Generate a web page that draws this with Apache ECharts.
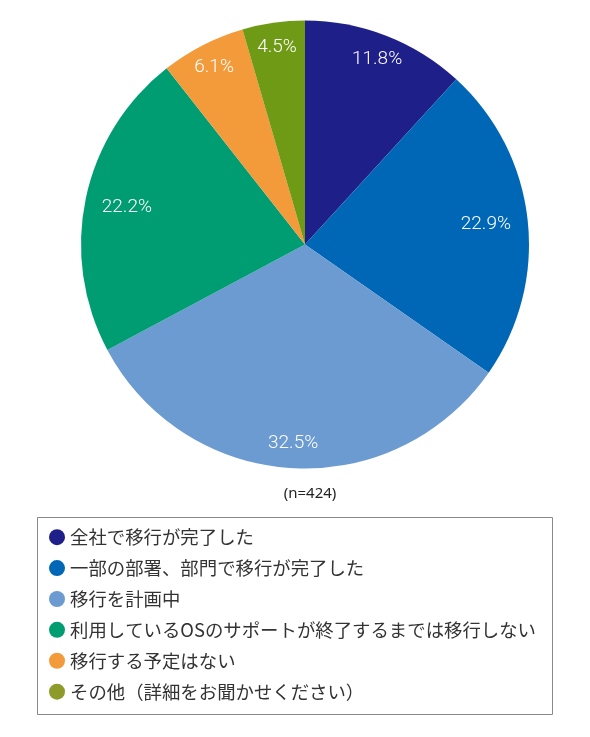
<!DOCTYPE html>
<html><head><meta charset="utf-8">
<script src="https://cdn.jsdelivr.net/npm/echarts@6/dist/echarts.min.js"></script>
<style>html,body{margin:0;padding:0;background:#fff}#c{width:590px;height:737px}</style>
</head><body><div id="c"></div>
<script>
var categories = ['全社で移行が完了した','一部の部署、部門で移行が完了した','移行を計画中','利用しているOSのサポートが終了するまでは移行しない','移行する予定はない','その他（詳細をお聞かせください）'];
var values = [11.8, 22.9, 32.5, 22.2, 6.1, 4.5];
var colors = ['#1e1f88','#0067b6','#6c9bd1','#009c72','#f39b3b','#6f9a15'];
var legendColors = ['#1e1f88','#0067b6','#6c9bd1','#009c72','#f39b3b','#8e9b2a'];
var note = '(n=424)';

var chart = echarts.init(document.getElementById('c'));
var font = '"Noto Sans CJK JP","Noto Sans",sans-serif';
var innerLabelIdx = [1, 3];
function labelSeries(r0, inner) {
  return {
    type: 'pie', center: [305, 244.5], radius: [r0, 224], startAngle: 90, clockwise: true,
    silent: true, legendHoverLink: false,
    itemStyle: {color: 'rgba(0,0,0,0)'},
    label: {show: true, position: 'inside', color: '#fff', fontSize: 19, fontWeight: 300, fontFamily: 'Roboto, "Noto Sans", sans-serif',
      formatter: function(p){return values[p.dataIndex].toFixed(1) + '%';}},
    labelLine: {show: false},
    data: categories.map(function(n,i){
      var isInner = innerLabelIdx.indexOf(i) >= 0;
      return {name:n, value:values[i], label:{show: isInner === inner}};
    })
  };
}
chart.setOption({
  animation: false,
  backgroundColor: '#fff',
  title: {text: note, left: 305, top: 481, textAlign: 'center',
    textStyle: {fontSize: 15, fontWeight: 'normal', color: '#222', fontFamily: '"Noto Sans",sans-serif'}},
  legend: {
    orient: 'vertical', left: 49, top: 528, padding: 0,
    icon: 'circle', itemWidth: 16, itemHeight: 16, itemGap: 12.5, itemTextGap: 8,
    selectedMode: false,
    textStyle: {fontSize: 18.4, color: '#333', fontFamily: font, lineHeight: 16},
    data: categories.map(function(n,i){return {name:n, itemStyle:{color:legendColors[i]}};})
  },
  graphic: [{type:'rect', shape:{x:37.5,y:517.5,width:515,height:197}, style:{fill:'none',stroke:'#8a8a8a',lineWidth:1}, silent:true}],
  series: [{
    type: 'pie', center: [305, 244.5], radius: [0, 224], startAngle: 90, clockwise: true,
    label: {show: false}, labelLine: {show: false}, silent: true,
    data: categories.map(function(n,i){return {name:n, value:values[i], itemStyle:{color:colors[i]}};})
  }, labelSeries(134, true), labelSeries(168, false)]
});
</script></body></html>
